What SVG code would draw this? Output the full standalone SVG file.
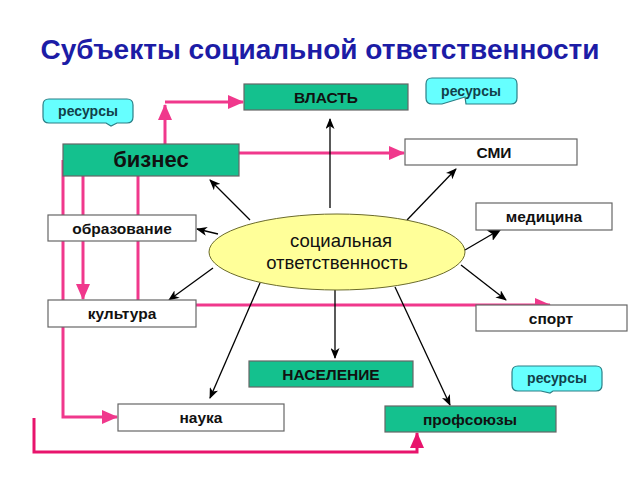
<svg xmlns="http://www.w3.org/2000/svg" width="640" height="480" viewBox="0 0 640 480">
<defs>
<marker id="ab" markerUnits="userSpaceOnUse" markerWidth="11" markerHeight="9" refX="10" refY="4.5" orient="auto"><path d="M0,0 L11,4.5 L0,9 L3,4.5 z" fill="#000"/></marker>
<marker id="abig" markerUnits="userSpaceOnUse" markerWidth="14" markerHeight="12" refX="13" refY="6" orient="auto"><path d="M0,0 L14,6 L0,12 L3,6 z" fill="#000"/></marker>
<marker id="ap" markerUnits="userSpaceOnUse" markerWidth="16" markerHeight="14" refX="15" refY="7" orient="auto"><path d="M0,0 L16,7 L0,14 z" fill="#f0388c"/></marker>
<marker id="ar" markerUnits="userSpaceOnUse" markerWidth="16" markerHeight="14" refX="15" refY="7" orient="auto"><path d="M0,0 L16,7 L0,14 z" fill="#e8146c"/></marker>
</defs>
<style>
.box{stroke:#666;stroke-width:1.2}
.g{fill:#14c18e}
.w{fill:#fff}
.t{font-family:"Liberation Sans",Arial,sans-serif;font-weight:bold;font-size:15.5px;fill:#111;text-anchor:middle}
.e{font-family:"Liberation Sans",Arial,sans-serif;font-size:18.5px;fill:#111;text-anchor:middle}
.c{fill:#66ffff;stroke:#2b7f86;stroke-width:1.2}
.ct{font-family:"Liberation Sans",Arial,sans-serif;font-weight:bold;font-size:14px;fill:#123f4a;text-anchor:middle}
.k{stroke:#000;stroke-width:1.3;fill:none}
.p{stroke:#f0388c;stroke-width:3;fill:none}
.r{stroke:#e8146c;stroke-width:3;fill:none}
</style>
<rect width="640" height="480" fill="#fff"/>
<text x="320" y="59" font-family="'Liberation Sans',Arial,sans-serif" font-weight="bold" font-size="28" fill="#1c1ca6" text-anchor="middle">Субъекты социальной ответственности</text>

<g id="connectors">
<path class="p" d="M165,144 V105" marker-end="url(#ap)"/>
<path class="p" d="M165,102 H243" marker-end="url(#ap)"/>
<path class="p" d="M239,153 H404" marker-end="url(#ap)"/>
<path class="p" d="M63,160 V417 H117" marker-end="url(#ap)"/>
<path class="p" d="M83,176 V299" marker-end="url(#ap)"/>
<path class="p" d="M138,176 V300"/>
<path class="p" d="M196,305 H550" marker-end="url(#ap)"/>
<path class="r" d="M34,418 V452 H417 V433" marker-end="url(#ar)"/>
<path class="k" d="M330,208 V119" stroke="#444" stroke-width="2" marker-end="url(#ab)"/>
<path class="k" d="M250,220 L210,180" marker-end="url(#ab)"/>
<path class="k" d="M407,220 L456,169" marker-end="url(#ab)"/>
<path class="k" d="M218,234 L197,229" stroke-width="0.9" marker-end="url(#ab)"/>
<path class="k" d="M213,268 L169,300" marker-end="url(#ab)"/>
<path class="k" d="M465,250 L501,229" stroke-width="2.5" marker-end="url(#abig)"/>
<path class="k" d="M461,265 L506,300" marker-end="url(#ab)"/>
<path class="k" d="M335,290 V358" marker-end="url(#ab)"/>
<path class="k" d="M260,283 L210,398" marker-end="url(#ab)"/>
<path class="k" d="M395,287 L450,405" marker-end="url(#ab)"/>
</g>

<g id="center">
<ellipse cx="337" cy="252" rx="128" ry="38" fill="#ffff99" stroke="#6b6b2a" stroke-width="1"/>
<text x="341" y="247" class="e">социальная</text>
<text x="337" y="269" class="e">ответственность</text>
</g>

<g id="vlast"><rect class="box g" x="244" y="84" width="164" height="26"/><text class="t" x="326" y="102.5">ВЛАСТЬ</text></g>
<g id="biznes"><rect class="box g" x="63" y="144" width="176" height="32"/><text class="t" x="151" y="167" style="font-size:22px">бизнес</text></g>
<g id="smi"><rect class="box w" x="405" y="139" width="172" height="26"/><text class="t" x="494" y="158">СМИ</text></g>
<g id="obrazovanie"><rect class="box w" x="48" y="215" width="148" height="26"/><text class="t" x="122" y="233.5">образование</text></g>
<g id="medicina"><rect class="box w" x="476" y="203" width="136" height="27"/><text class="t" x="544" y="222">медицина</text></g>
<g id="kultura"><rect class="box w" x="48" y="300" width="148" height="27"/><text class="t" x="122" y="319">культура</text></g>
<g id="sport"><rect class="box w" x="476" y="305" width="151" height="26"/><text class="t" x="551" y="323.5">спорт</text></g>
<g id="naselenie"><rect class="box g" x="249" y="361" width="164" height="26"/><text class="t" x="331" y="379.5">НАСЕЛЕНИЕ</text></g>
<g id="nauka"><rect class="box w" x="118" y="404" width="166" height="27"/><text class="t" x="201" y="423">наука</text></g>
<g id="profsoyuzy"><rect class="box g" x="385" y="406" width="171" height="26"/><text class="t" x="470" y="424.5">профсоюзы</text></g>

<g id="res1"><path class="c" d="M49,99 H127 Q133,99 133,105 V117 Q133,123 127,123 H117 L111,126 L106,123 H49 Q43,123 43,117 V105 Q43,99 49,99 Z"/><text class="ct" x="88" y="116">ресурсы</text></g>
<g id="res2"><path class="c" d="M432,78 H511 Q517,78 517,84 V98 Q517,104 511,104 H466 L465,97 L442,104 H432 Q426,104 426,98 V84 Q426,78 432,78 Z"/><text class="ct" x="471" y="96">ресурсы</text></g>
<g id="res3"><path class="c" d="M518,366 H596 Q602,366 602,372 V385 Q602,391 596,391 H553 L550,393 L541,391 H518 Q512,391 512,385 V372 Q512,366 518,366 Z"/><text class="ct" x="557" y="383">ресурсы</text></g>
</svg>
